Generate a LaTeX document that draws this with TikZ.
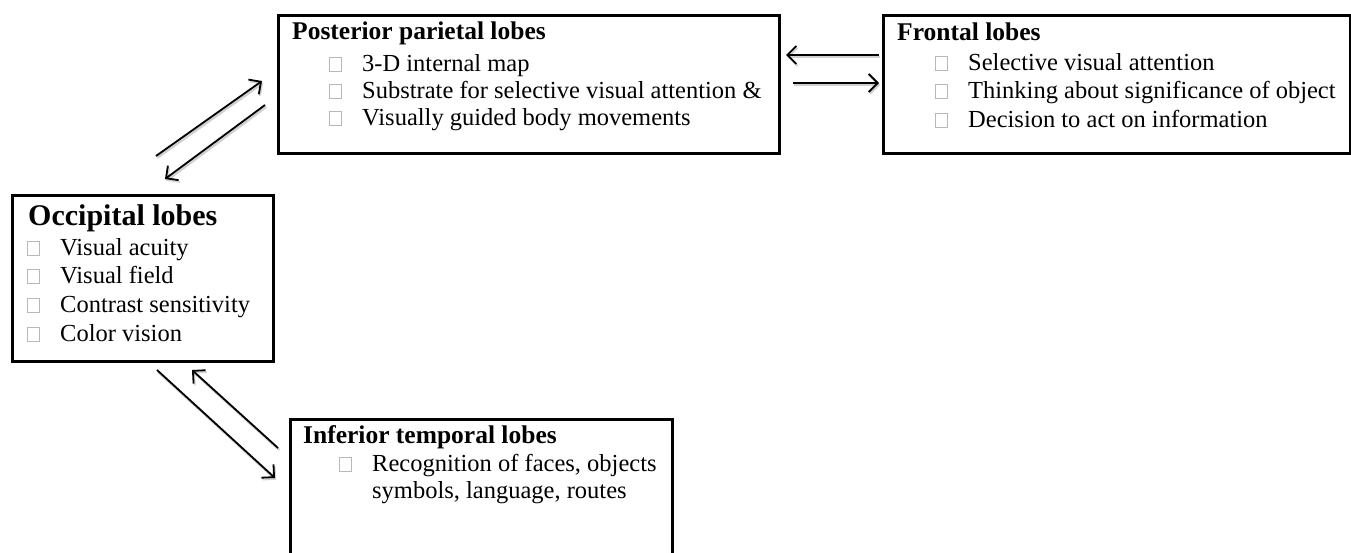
\documentclass[tikz,border=0pt]{standalone}
\usepackage{fontspec}
\setmainfont{Liberation Serif}
\usetikzlibrary{arrows.meta}
\newcommand{\bx}{\textcolor{black!28}{\setlength{\fboxrule}{0.8pt}\setlength{\fboxsep}{0pt}\fbox{\hbox to 12pt{\vrule width 0pt height 13pt\hfil}}}}
\newcommand{\itm}[1]{\makebox[0pt][r]{\bx\hspace{20pt}}#1}
\tikzset{
  lobe/.style={draw=black, line width=3.6pt, inner sep=0pt, anchor=north west, fill=white},
  ttl/.style={anchor=base west, inner sep=0pt, font=\fontsize{25.5}{29}\selectfont\bfseries},
  bigttl/.style={anchor=base west, inner sep=0pt, font=\fontsize{30}{34}\selectfont\bfseries},
  txt/.style={anchor=base west, inner sep=0pt, font=\fontsize{24.5}{28}\selectfont},
  link/.style={line width=1.8pt, -{Straight Barb[length=9pt,width=18pt,line width=1.8pt]},
    preaction={draw=black!18, line width=2.5pt, transform canvas={shift={(1.2pt,-1.8pt)}}}}
}
\begin{document}
\begin{tikzpicture}[x=1pt,y=-1pt]
\path[use as bounding box] (0,0) rectangle (1351,552);
\clip (0,0) rectangle (1351,552);
% boxes
\node[lobe, minimum width=501pt, minimum height=138pt] (post) at (276.5,13.5) {};
\node[lobe, minimum width=467pt, minimum height=138pt] (front) at (881.5,13.5) {};
\node[lobe, minimum width=261pt, minimum height=166pt] (occ) at (10.5,193.5) {};
\node[lobe, minimum width=382pt, minimum height=200pt] (inf) at (288.5,417.5) {};
% posterior parietal
\node[ttl] (postT) at (292,39) {Posterior parietal lobes};
\node[txt] (post1) at (362,71) {\itm{3-D internal map}};
\node[txt] (post2) at (362,98) {\itm{Substrate for selective visual attention \&}};
\node[txt] (post3) at (362,125) {\itm{Visually guided body movements}};
% frontal
\node[ttl] (frontT) at (897,40) {Frontal lobes};
\node[txt] (front1) at (968,70) {\itm{Selective visual attention}};
\node[txt] (front2) at (968,98) {\itm{Thinking about significance of object}};
\node[txt] (front3) at (968,127) {\itm{Decision to act on information}};
% occipital
\node[bigttl] (occT) at (28,225) {Occipital lobes};
\node[txt] (occ1) at (60,255) {\itm{Visual acuity}};
\node[txt] (occ2) at (60,283) {\itm{Visual field}};
\node[txt] (occ3) at (60,312) {\itm{Contrast sensitivity}};
\node[txt] (occ4) at (60,341) {\itm{Color vision}};
% inferior temporal
\node[ttl] (infT) at (303,443) {Inferior temporal lobes};
\node[txt] (inf1) at (372,471) {\itm{Recognition of faces, objects}};
\node[txt] (inf2) at (372,498) {symbols, language, routes};
% connector end points
\coordinate (a1s) at (156,156); \coordinate (a1e) at (262,81);
\coordinate (a2s) at (265,105); \coordinate (a2e) at (165,179);
\coordinate (a3s) at (879,55);  \coordinate (a3e) at (786,55);
\coordinate (a4s) at (793,83);  \coordinate (a4e) at (879,83);
\coordinate (a5s) at (157,370); \coordinate (a5e) at (275,478);
\coordinate (a6s) at (278,448); \coordinate (a6e) at (192,370);
\draw[link] (a1s) -- (a1e);
\draw[link] (a2s) -- (a2e);
\draw[link] (a3s) -- (a3e);
\draw[link] (a4s) -- (a4e);
\draw[link] (a5s) -- (a5e);
\draw[link] (a6s) -- (a6e);
\end{tikzpicture}
\end{document}
